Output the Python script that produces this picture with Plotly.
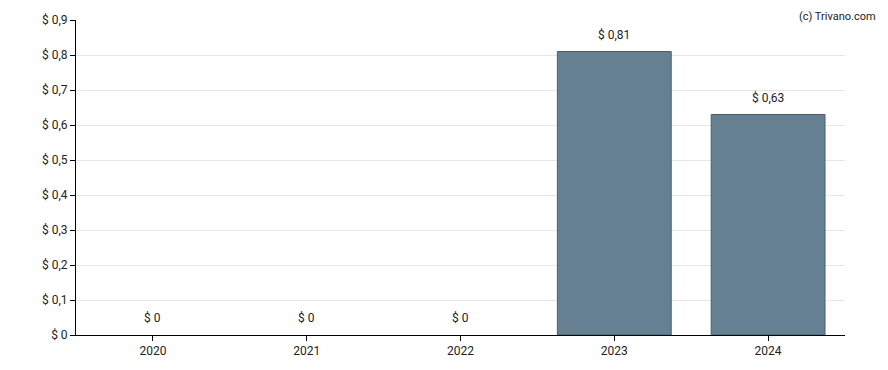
import plotly.graph_objects as go

years = [2020, 2021, 2022, 2023, 2024]
year_labels = ["2020", "2021", "2022", "2023", "2024"]
values = [0, 0, 0, 0.81, 0.63]
labels = ["$ 0", "$ 0", "$ 0", "$ 0,81", "$ 0,63"]
ytick_vals = [0, 0.1, 0.2, 0.3, 0.4, 0.5, 0.6, 0.7, 0.8, 0.9]
ytick_text = ["$ 0", "$ 0,1", "$ 0,2", "$ 0,3", "$ 0,4", "$ 0,5", "$ 0,6", "$ 0,7", "$ 0,8", "$ 0,9"]

fig = go.Figure()
fig.add_trace(go.Bar(
    x=years, y=values, width=[0.74] * len(years),
    marker=dict(color="rgb(101,128,145)",
                line=dict(color="rgb(70,95,115)", width=[1 if v > 0 else 0 for v in values])),
    hoverinfo="skip",
))
for x, v, t in zip(years, values, labels):
    fig.add_annotation(x=x, y=v, text=t, showarrow=False, yanchor="bottom", yshift=8,
                       font=dict(family="Roboto", size=12, color="#222"))
fig.add_annotation(x=1, y=1, xref="paper", yref="paper", text="(c) Trivano.com",
                   showarrow=False, xanchor="right", yanchor="top", xshift=33, yshift=12,
                   font=dict(family="Roboto", size=11, color="#222"))

fig.update_layout(
    width=880, height=362,
    margin=dict(l=68, r=43, t=12, b=35),
    paper_bgcolor="white", plot_bgcolor="white",
    showlegend=False,
    font=dict(family="Roboto", size=12, color="#222"),
)
fig.update_xaxes(type="linear", range=[years[0] - 0.5, years[-1] + 0.5], tickvals=years, ticktext=year_labels,
                 showline=True, linecolor="black", linewidth=1, ticks="outside", ticklen=5,
                 tickcolor="black", showgrid=False, zeroline=False, tickfont=dict(size=12),
                 automargin=False)
fig.update_yaxes(range=[0, 0.9], tickvals=ytick_vals, ticktext=ytick_text, showline=True,
                 linecolor="black", linewidth=1, ticks="outside", ticklen=5, tickcolor="black",
                 showgrid=True, gridcolor="#e6e6e6", zeroline=False, tickfont=dict(size=12),
                 automargin=False)

fig.write_html("out.html")
